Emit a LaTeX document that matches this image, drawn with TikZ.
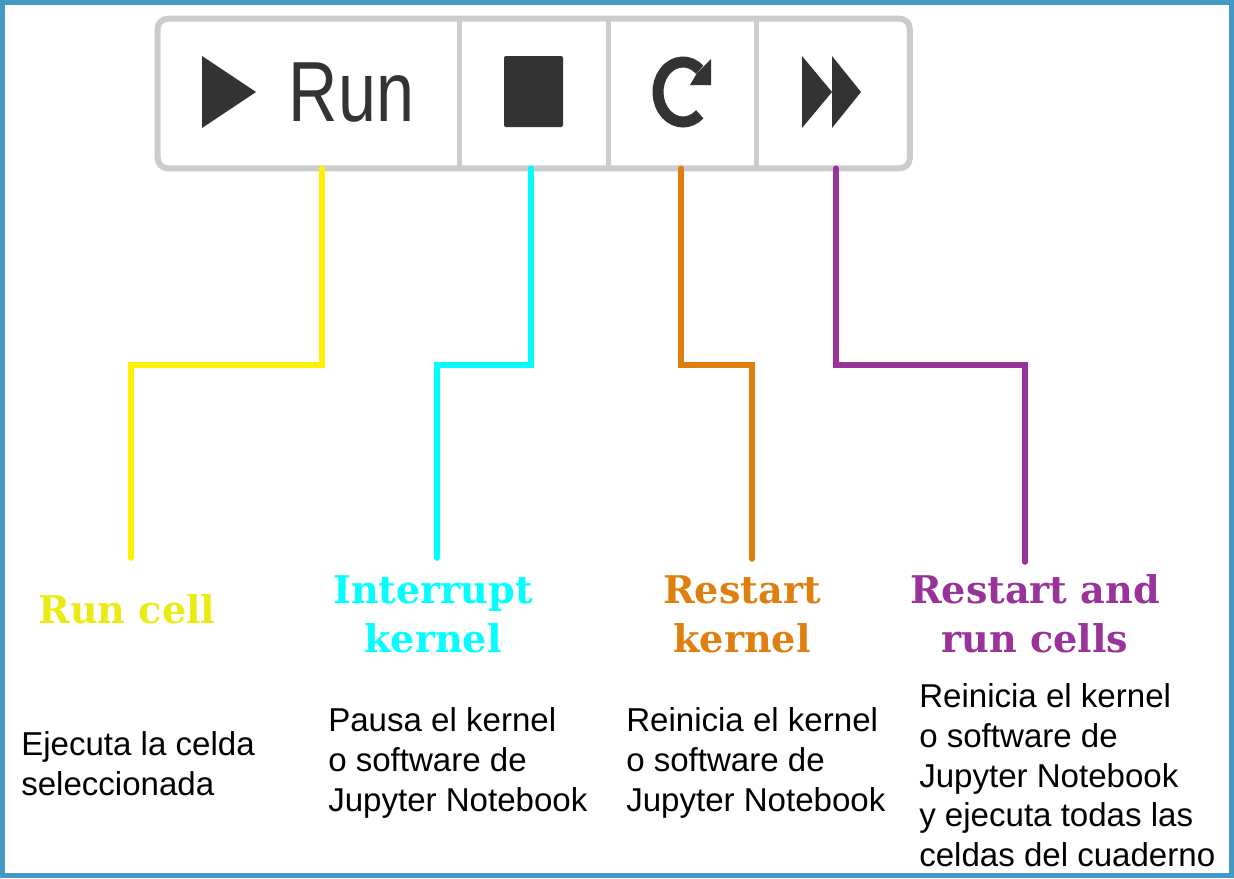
\documentclass[tikz,border=0pt]{standalone}
\usepackage{fontspec}
\usepackage{xcolor}
\setmainfont{Liberation Sans}
\newfontfamily\slabfont{DejaVu Serif}
\usetikzlibrary{positioning}

\definecolor{frameblue}{HTML}{4499C4}
\definecolor{bargray}{HTML}{CCCCCC}
\definecolor{icongray}{HTML}{333333}
\definecolor{runyellow}{HTML}{EBEB14}
\definecolor{stopcyan}{HTML}{00FFFF}
\definecolor{restartorange}{HTML}{DF7F0F}
\definecolor{runallpurple}{HTML}{993399}

\begin{document}
\begin{tikzpicture}[
        x=0.75pt, y=-0.75pt,
        button/.style={rectangle, inner sep=0pt, minimum height=111.75pt},
        divider/.style={bargray, line width=3.75pt},
        icon/.style={fill=icongray, draw=none},
        wire/.style={line width=4.2pt, line cap=round, line join=miter},
        heading/.style={font=\slabfont\bfseries\fontsize{28.6}{36.7}\selectfont, align=center, inner sep=0pt},
        note/.style={font=\fontsize{24.8}{29.8}\selectfont, align=left, anchor=north west, inner sep=0pt}
    ]
    \useasboundingbox (0,0) rectangle (1234,878);
    \draw[frameblue, line width=3.75pt] (2.5,2.5) rectangle (1231.5,875.5);

    % Toolbar
    \node[button, minimum width=225.75pt] (runbtn) at (308.5,93.5) {};
    \node[button, minimum width=111.75pt] (stopbtn) at (533.5,93.5) {};
    \node[button, minimum width=111pt] (restartbtn) at (682.5,93.5) {};
    \node[button, minimum width=114.75pt] (fastbtn) at (833,93.5) {};
    \draw[bargray, line width=4.5pt, rounded corners=7.5pt] (runbtn.north west) rectangle (fastbtn.south east);
    \draw[divider] (runbtn.north east) -- (runbtn.south east);
    \draw[divider] (stopbtn.north east) -- (stopbtn.south east);
    \draw[divider] (restartbtn.north east) -- (restartbtn.south east);

    % Icons
    \fill[icon] (202,56) -- (256,92) -- (202,128) -- cycle;
    \node[inner sep=0pt, text=icongray, font=\fontsize{64}{64}\selectfont] (runtext) at (351.5,93) {\scalebox{.8}[1]{Run}};
    \fill[icon, rounded corners=1.5pt] (504,56) rectangle (563,127);
    \draw[icongray, line width=8.25pt] (683,92) ++(-48:25 and 30) arc[start angle=-48, end angle=-312, x radius=25, y radius=30];
    \fill[icon] (711,59) -- (711,85) -- (690,85) -- (697,73) -- cycle;
    \fill[icon] (802,56) -- (832,92) -- (802,128) -- cycle;
    \fill[icon] (832,56) -- (861,92) -- (832,128) -- cycle;

    % Headings
    \node[heading, text=runyellow] (runhead) at (127,609) {Run cell};
    \node[heading, text=stopcyan] (stophead) at (433,614) {Interrupt\\kernel};
    \node[heading, text=restartorange] (restarthead) at (742,614) {Restart\\kernel};
    \node[heading, text=runallpurple] (runallhead) at (1035,614) {Restart and\\run cells};

    % Connectors
    \coordinate (runend) at (131,558);
    \coordinate (stopend) at (437,558);
    \coordinate (restartend) at (752,559);
    \coordinate (runallend) at (1025,562);
    \draw[wire, yellow] ([xshift=10.1pt]runbtn.south) -- ++(0,197) -| (runend);
    \draw[wire, stopcyan] ([xshift=-2pt]stopbtn.south) -- ++(0,197) -| (stopend);
    \draw[wire, restartorange] ([xshift=-1pt]restartbtn.south) -- ++(0,197) -| (restartend);
    \draw[wire, runallpurple] ([xshift=2.25pt]fastbtn.south) -- ++(0,197) -| (runallend);

    % Descriptions
    \node[note] (runnote) at (21,731.5) {Ejecuta la celda\\seleccionada};
    \node[note] (stopnote) at (328,707.5) {Pausa el kernel\\o software de\\Jupyter Notebook};
    \node[note] (restartnote) at (626,707.5) {Reinicia el kernel\\o software de\\Jupyter Notebook};
    \node[note] (runallnote) at (919,683.5) {Reinicia el kernel\\o software de\\Jupyter Notebook\\y ejecuta todas las\\celdas del cuaderno};
\end{tikzpicture}
\end{document}
